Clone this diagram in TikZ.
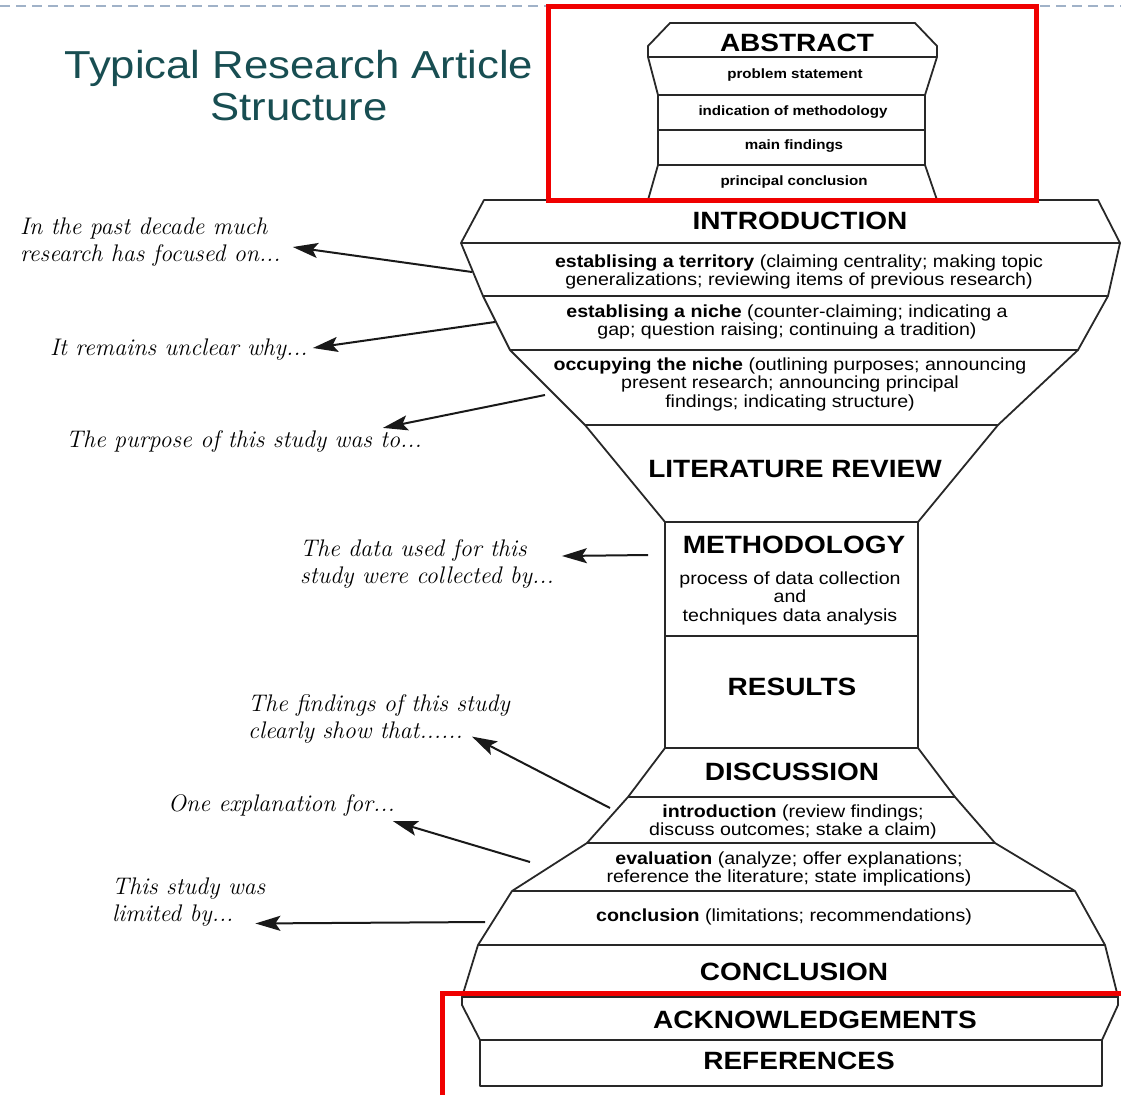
\documentclass[tikz,border=0pt]{standalone}
\usepackage{fontspec}
\setsansfont{Liberation Sans}[FakeStretch=1.12]
\usetikzlibrary{positioning,calc,arrows.meta}
\definecolor{titleteal}{RGB}{24,78,82}
\definecolor{dashblue}{RGB}{160,178,200}
\definecolor{markred}{RGB}{240,0,0}
\definecolor{edgegray}{RGB}{40,40,40}
\tikzset{
  outline/.style={line width=1.8pt, draw=edgegray, fill=white, line join=round},
  divider/.style={line width=1.8pt, draw=edgegray},
  heading/.style={font=\sffamily\fontsize{39}{42}\selectfont, text=titleteal, align=center, inner sep=0pt},
  part/.style={font=\sffamily\bfseries\fontsize{25}{30}\selectfont, inner sep=0pt},
  absitem/.style={font=\sffamily\bfseries\fontsize{13.5}{16}\selectfont, inner sep=0pt},
  sub/.style={font=\sffamily\fontsize{17.5}{18.5}\selectfont, align=center, inner sep=0pt},
  phrase/.style={font=\itshape\fontsize{24}{27}\selectfont, align=left, inner sep=0pt, anchor=west},
  pointer/.style={-{Stealth[length=25pt,width=15pt,inset=5pt]}, line width=2pt, draw=black!90},
  redmark/.style={draw=markred, line width=5pt}
}
\begin{document}
\begin{tikzpicture}[x=1pt,y=-1pt]
\useasboundingbox (0,0) rectangle (1121,1095);
\draw[dashblue, line width=1.5pt, dash pattern=on 10pt off 6pt] (0,6) -- (1121,6);
\node[heading] (title) at (299,86) {Typical Research Article\\Structure};

\draw[outline] (670,23) -- (915,23) -- (937,46) -- (937,57) -- (925,95) -- (925,165) -- (937,200)
  -- (648,200) -- (658,165) -- (658,95) -- (648,57) -- (648,46) -- cycle;
\foreach \y/\l/\r in {57/648/937, 95/658/925, 130/658/925, 165/658/925}
  \draw[divider] (\l,\y) -- (\r,\y);

\draw[outline] (484,200) -- (1098,200) -- (1120,243) -- (1108,296) -- (1078,350) -- (998,425) -- (918,522)
  -- (665,522) -- (585,425) -- (510,350) -- (483,296) -- (461,243) -- cycle;
\foreach \y/\l/\r in {243/461/1120, 296/483/1108, 350/510/1078, 425/585/998}
  \draw[divider] (\l,\y) -- (\r,\y);

\draw[outline] (665,522) rectangle (918,748);
\draw[divider] (665,636) -- (918,636);

\draw[outline] (665,748) -- (918,748) -- (955,797) -- (995,843) -- (1075,891) -- (1105,945) -- (1118,997)
  -- (462,997) -- (478,945) -- (512,891) -- (587,843) -- (628,797) -- cycle;
\foreach \y/\l/\r in {797/628/955, 843/587/995, 891/512/1075, 945/478/1105}
  \draw[divider] (\l,\y) -- (\r,\y);

\draw[outline] (462,997) -- (1118,997) -- (1118,1005) -- (1102,1040) -- (480,1040) -- (462,1005) -- cycle;
\draw[outline] (480,1040) rectangle (1102,1086);

\node[part] (abs) at (797,43) {ABSTRACT};
\node[absitem] (prob) at (795,75) {problem statement};
\node[absitem] (meth0) at (793,112) {indication of methodology};
\node[absitem] (find0) at (794,146) {main findings};
\node[absitem] (conc0) at (794,182) {principal conclusion};

\node[part] (intro) at (800,221) {INTRODUCTION};
\node[sub] (terr) at (799,272) {\textbf{establising a territory} (claiming centrality; making topic\\generalizations; reviewing items of previous research)};
\node[sub] (niche) at (787,322) {\textbf{establising a niche} (counter-claiming; indicating a\\gap; question raising; continuing a tradition)};
\node[sub] (occ) at (790,384) {\textbf{occupying the niche} (outlining purposes; announcing\\present research; announcing principal\\findings; indicating structure)};
\node[part] (lit) at (795,469) {LITERATURE REVIEW};
\node[part] (meth) at (794,545) {METHODOLOGY};
\node[sub] (methtxt) at (790,598) {process of data collection\\and\\techniques data analysis};
\node[part] (res) at (792,687) {RESULTS};
\node[part] (disc) at (792,772) {DISCUSSION};
\node[sub] (dintro) at (793,822) {\textbf{introduction} (review findings;\\discuss outcomes; stake a claim)};
\node[sub] (deval) at (789,869) {\textbf{evaluation} (analyze; offer explanations;\\reference the literature; state implications)};
\node[sub] (dconc) at (784,917) {\textbf{conclusion} (limitations; recommendations)};
\node[part] (conc) at (794,972) {CONCLUSION};
\node[part] (ack) at (815,1020) {ACKNOWLEDGEMENTS};
\node[part] (refs) at (799,1061) {REFERENCES};

\node[phrase] (past) at (20,242) {In the past decade much\\research has focused on...};
\node[phrase] (unclear) at (50,350) {It remains unclear why...};
\node[phrase] (purpose) at (66,441) {The purpose of this study was to...};
\node[phrase] (data) at (300,564) {The data used for this\\study were collected by...};
\node[phrase] (findings) at (248,719) {The findings of this study\\clearly show that......};
\node[phrase] (explain) at (168,805) {One explanation for...};
\node[phrase] (limited) at (112,902) {This study was\\limited by...};

\coordinate (t1) at (472,272);
\coordinate (t2) at (495,322);
\coordinate (t3) at (545,395);
\coordinate (t4) at (648,555);
\coordinate (t5) at (610,808);
\coordinate (t6) at (530,862);
\coordinate (t7) at (485,922);
\draw[pointer] (t1) -- ($(past.east)+(12,5)$);
\draw[pointer] (t2) -- ($(unclear.east)+(5,-2)$);
\draw[pointer] (t3) -- ($(purpose.north east)+(-39,-2)$);
\draw[pointer] (t4) -- ($(data.east)+(8,-8)$);
\draw[pointer] (t5) -- ($(findings.south east)+(-38,-7)$);
\draw[pointer] (t6) -- ($(explain.south east)+(-2,5)$);
\draw[pointer] (t7) -- ($(limited.south east)+(-10,-3)$);

\draw[redmark] (548,6) rectangle (1036,200);
\draw[redmark] (442,1095) -- (442,993) -- (1121,993);
\end{tikzpicture}
\end{document}
